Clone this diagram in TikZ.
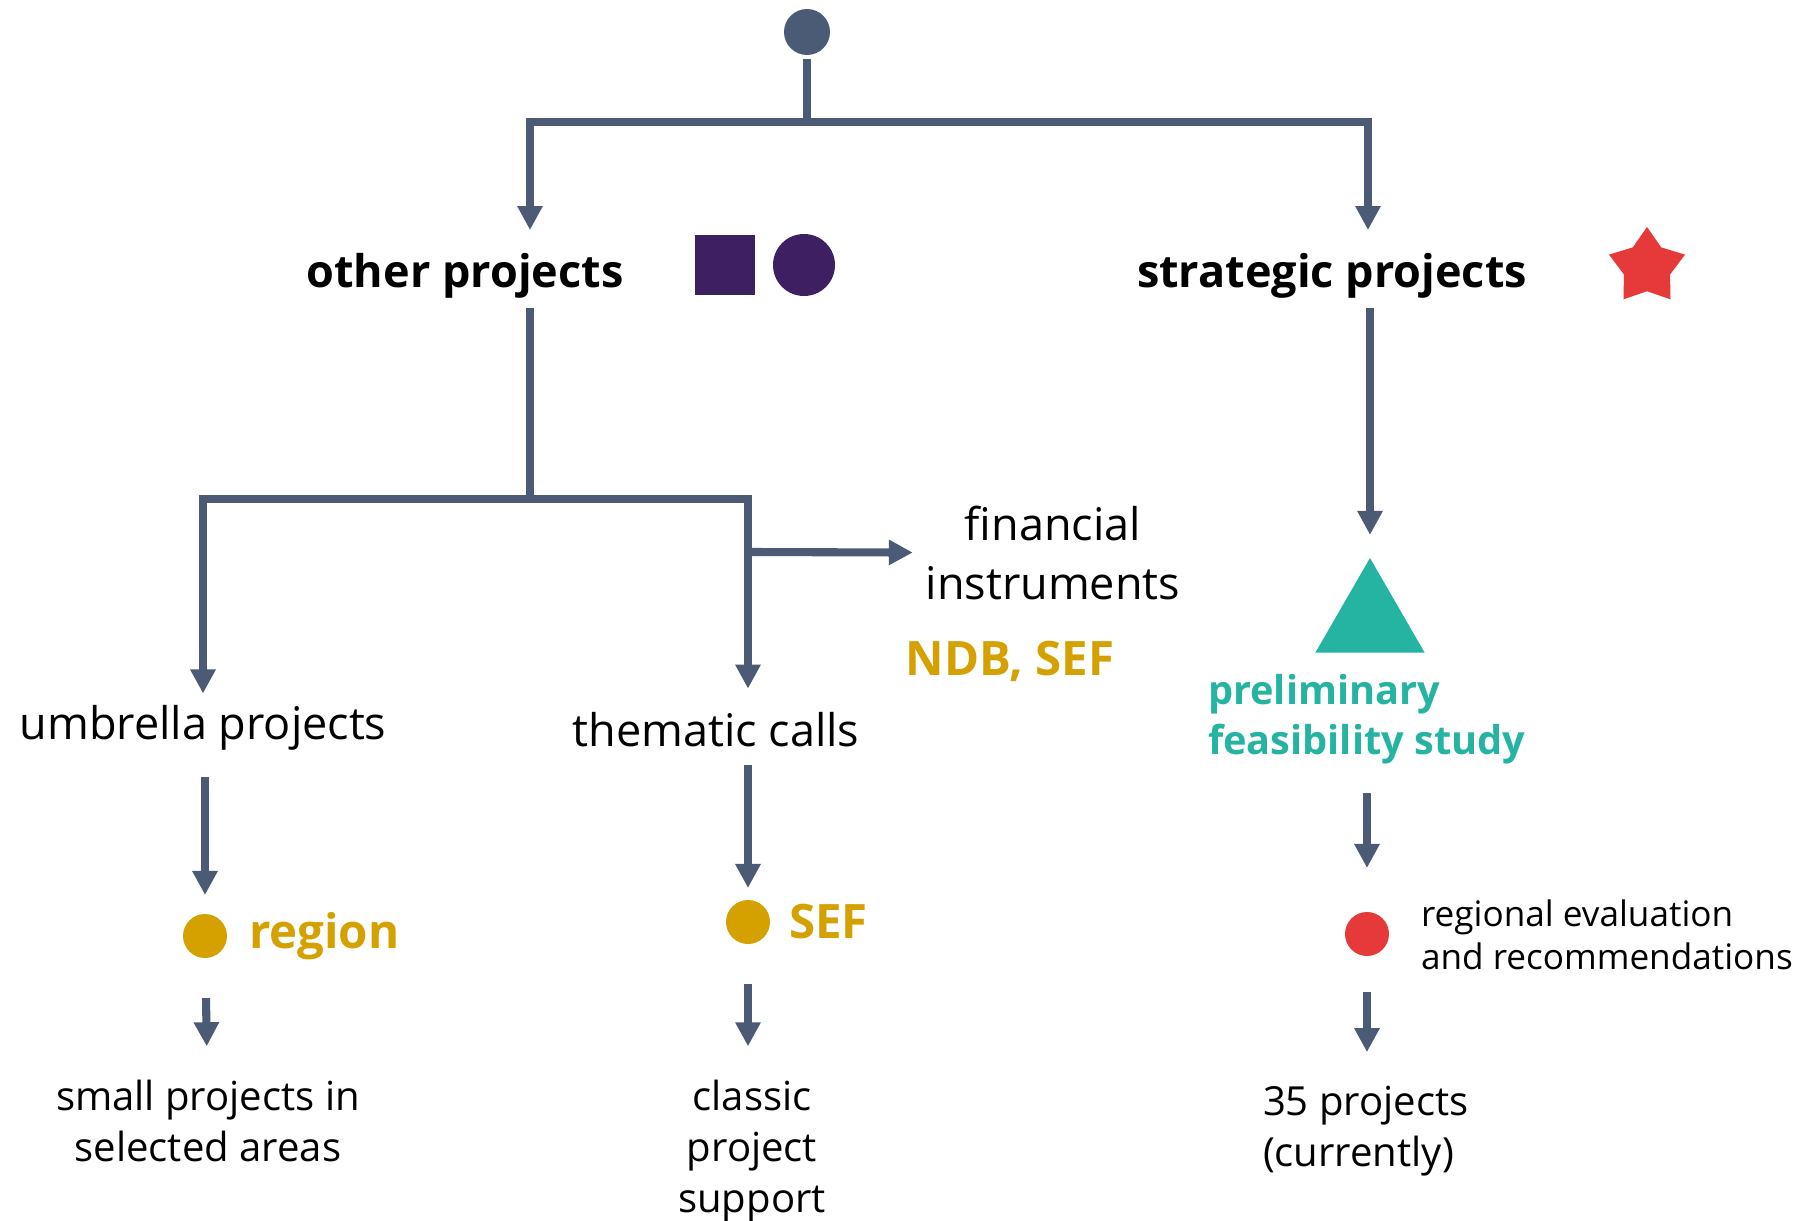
\documentclass[tikz,border=0pt]{standalone}
\usepackage{fontspec}
\setmainfont{Open Sans}
\usetikzlibrary{arrows.meta,positioning,calc,shapes.geometric}
\definecolor{lineclr}{HTML}{4B5B75}
\definecolor{goldclr}{HTML}{D4A100}
\definecolor{mintclr}{HTML}{25B3A2}
\definecolor{redclr}{HTML}{E63A3A}
\definecolor{plumclr}{HTML}{3E1F62}

\begin{document}
\begin{tikzpicture}[>={Triangle[width=2.4mm,length=2.4mm]}, line width=2.3pt]
\tikzstyle{flow}=[->, draw=lineclr]
\tikzstyle{link}=[-, draw=lineclr]
\tikzstyle{headtxt}=[inner sep=0, font=\bfseries\fontsize{12.8}{15}\selectfont]
\tikzstyle{stagetxt}=[inner sep=0, align=center, font=\fontsize{12.8}{17}\selectfont]
\tikzstyle{leaftxt}=[inner sep=0, align=center, font=\fontsize{11.4}{14.4}\selectfont]
\tikzstyle{tagtxt}=[inner sep=0, text=goldclr, font=\bfseries\fontsize{13.5}{16}\selectfont]
\tikzstyle{dot}=[circle, inner sep=0, minimum size=4.4mm]
\useasboundingbox (0,0) rectangle (18,-12.21);

% top of the tree
\node[dot, fill=lineclr, minimum size=4.6mm] (root) at (8.07,-0.32) {};
\coordinate (split) at (8.07,-1.22);
\coordinate (o-in)  at (5.30,-2.30);
\coordinate (s-in)  at (13.68,-2.30);

\node[headtxt] (other) at (4.65,-2.76) {other projects};
\node[headtxt] (strat) at (13.32,-2.76) {strategic projects};
\node[fill=plumclr, minimum size=6mm, inner sep=0] (sq) at (7.25,-2.65) {};
\node[dot, fill=plumclr, minimum size=6.2mm] (pdot) at (8.04,-2.65) {};
\node[star, star points=5, star point ratio=1.65, fill=redclr,
      minimum size=8mm, inner sep=0] (star) at (16.47,-2.67) {};

% other projects
\coordinate (fork)  at (5.30,-4.99);
\coordinate (tap)   at (7.50,-5.52);
\node[stagetxt] (umb)  at (2.03,-7.28) {umbrella projects};
\node[stagetxt] (them) at (7.16,-7.30) {thematic calls};
\node[stagetxt] (fin)  at (10.53,-5.53) {financial\\instruments};
\node[tagtxt]   (ndb)  at (10.10,-6.61) {NDB, SEF};

\node[dot, fill=goldclr] (regdot) at (2.05,-9.36) {};
\node[tagtxt, right=1.4mm of regdot] (reg) {region};
\node[dot, fill=goldclr] (sefdot) at (7.48,-9.22) {};
\node[tagtxt, right=1.1mm of sefdot] (sef) {SEF};

\node[leaftxt] (small)   at (2.08,-11.21) {small projects in\\selected areas};
\node[leaftxt] (classic) at (7.52,-11.51) {classic\\project\\support};

% strategic projects
\node[regular polygon, regular polygon sides=3, fill=mintclr,
      minimum size=12.6mm, inner sep=0] (tri) at (13.70,-6.21) {};
\node[inner sep=0, align=left, text=mintclr, anchor=west,
      font=\bfseries\fontsize{11.3}{14.4}\selectfont] (pre) at (12.04,-7.19)
      {preliminary\\feasibility study};
\node[dot, fill=redclr] (reddot) at (13.67,-9.34) {};
\node[inner sep=0, align=left, anchor=west,
      font=\fontsize{10}{12.4}\selectfont] (eval) at (14.17,-9.35)
      {regional evaluation\\and recommendations};
\node[leaftxt, align=left, anchor=west] (p35) at (12.59,-11.31)
      {35 projects\\(currently)};

% connectors
\draw[link] (root) -- (split);
\draw[flow] (split) -| (o-in);
\draw[flow] (split) -| (s-in);

\draw[link, shorten <=0.5mm] (other.south -| fork) -- (fork);
\draw[flow, shorten >=0.8mm] (fork) -| (umb);
\draw[flow] (fork) -| ($(them.north -| sefdot)+(0,0.2)$);
\draw[flow, shorten >=0.9mm] (tap) -- (fin);

\draw[flow, shorten <=2.2mm, shorten >=1.5mm] (umb.south -| regdot) -- (regdot);
\draw[flow, shorten <=3.6mm, shorten >=3mm] (regdot) -- (small);
\draw[flow, shorten <=1.4mm, shorten >=0.8mm] (them.south -| sefdot) -- (sefdot);
\draw[flow, shorten <=3.6mm, shorten >=3mm] (sefdot) -- (sefdot |- classic.north);

\draw[flow, shorten <=0.5mm, shorten >=1.5mm] (strat.south -| tri) -- (tri);
\draw[flow, shorten <=2.5mm, shorten >=4mm] (pre.south -| reddot) -- (reddot);
\draw[flow, shorten <=3.2mm, shorten >=3mm] (reddot) -- (reddot |- p35.north);
\end{tikzpicture}
\end{document}
